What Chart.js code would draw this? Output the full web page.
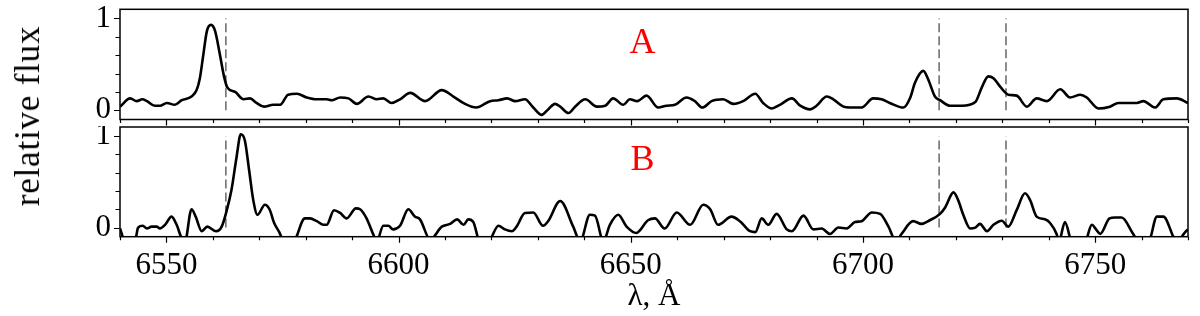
<!DOCTYPE html>
<html>
<head>
<meta charset="utf-8">
<script src="https://cdn.jsdelivr.net/npm/chart.js@4.4.1/dist/chart.umd.min.js"></script>
<style>
  html, body { margin: 0; padding: 0; background: #fff; overflow: hidden; }
  body { width: 1200px; height: 316px; position: relative; }
  .panel { position: absolute; left: 0; width: 1200px; }
  #panelA { top: 0; height: 126px; }
  #panelB { top: 126px; height: 190px; }
  #ylabel {
    position: absolute; left: 28px; top: 116px;
    transform: translate(-50%, -50%) rotate(-90deg);
    font-family: "Liberation Serif", "Times New Roman", serif;
    font-size: 35px; letter-spacing: 0.8px;
    white-space: nowrap; color: #000;
  }
</style>
</head>
<body>
<div class="panel" id="panelA"><canvas id="chartA"></canvas></div>
<div class="panel" id="panelB"><canvas id="chartB"></canvas></div>
<div id="ylabel">relative flux</div>
<script>
// spectrum A - wavelength (Angstrom) and relative flux
const waveA = [6540.0, 6542.2, 6543.6, 6544.8, 6545.8, 6547.5, 6548.6, 6550.1, 6551.8, 6553.3,
  6555.4, 6556.5, 6557.2, 6557.9, 6558.7, 6559.6, 6560.5, 6561.5, 6562.4, 6563.1,
  6564.8, 6566.6, 6568.0, 6569.4, 6571.0, 6573.0, 6574.5, 6576.2, 6578.1, 6580.2,
  6582.4, 6584.5, 6585.6, 6587.4, 6589.2, 6591.0, 6593.5, 6595.3, 6596.7, 6598.5,
  6600.3, 6602.5, 6605.7, 6609.3, 6611.8, 6614.3, 6616.7, 6619.7, 6621.5, 6623.4,
  6625.1, 6627.2, 6629.0, 6630.8, 6632.2, 6633.7, 6634.8, 6636.6, 6638.0, 6640.2,
  6642.7, 6644.5, 6646.2, 6648.4, 6649.8, 6651.4, 6653.4, 6655.9, 6657.7, 6659.5,
  6662.0, 6663.8, 6665.4, 6667.4, 6669.9, 6672.1, 6674.2, 6676.8, 6678.5, 6680.4,
  6682.1, 6684.7, 6686.5, 6688.6, 6690.0, 6692.2, 6693.6, 6695.8, 6697.2, 6699.7,
  6702.2, 6704.0, 6705.8, 6708.7, 6710.2, 6711.2, 6713.0, 6714.1, 6715.5, 6716.6,
  6718.8, 6721.3, 6724.2, 6725.6, 6727.0, 6728.1, 6729.5, 6731.3, 6733.1, 6735.3,
  6737.4, 6739.6, 6742.5, 6744.6, 6746.8, 6748.2, 6750.7, 6753.2, 6755.0, 6759.0,
  6760.4, 6762.9, 6764.7, 6767.6, 6770.0];
const fluxA = [0.04, 0.13, 0.10, 0.12, 0.10, 0.05, 0.05, 0.08, 0.06, 0.11,
  0.15, 0.22, 0.35, 0.59, 0.86, 0.93, 0.86, 0.61, 0.37, 0.25,
  0.20, 0.12, 0.13, 0.08, 0.04, 0.06, 0.06, 0.17, 0.18, 0.14,
  0.12, 0.12, 0.11, 0.14, 0.13, 0.07, 0.15, 0.12, 0.13, 0.08,
  0.12, 0.19, 0.10, 0.22, 0.15, 0.07, 0.03, 0.10, 0.11, 0.13,
  0.10, 0.12, 0.03, -0.05, 0.01, 0.07, 0.04, -0.03, 0.04, 0.12,
  0.04, 0.05, 0.13, 0.06, 0.12, 0.10, 0.16, 0.03, 0.05, 0.06,
  0.14, 0.10, 0.03, 0.10, 0.12, 0.07, 0.10, 0.18, 0.08, 0.02,
  0.06, 0.13, 0.05, 0.01, 0.05, 0.15, 0.12, 0.04, 0.03, 0.03,
  0.13, 0.12, 0.08, 0.03, 0.14, 0.30, 0.43, 0.33, 0.15, 0.11,
  0.05, 0.05, 0.09, 0.25, 0.37, 0.35, 0.26, 0.17, 0.16, 0.04,
  0.13, 0.10, 0.23, 0.14, 0.17, 0.14, 0.02, 0.04, 0.08, 0.08,
  0.10, 0.03, 0.12, 0.13, 0.08];

// spectrum B
const waveB = [6540.0, 6541.1, 6543.2, 6543.9, 6544.9, 6545.8, 6546.8, 6547.9, 6548.6, 6549.7,
  6551.1, 6552.2, 6553.3, 6554.0, 6555.4, 6556.3, 6557.6, 6558.8, 6560.7, 6561.9,
  6563.0, 6564.0, 6565.1, 6566.0, 6566.9, 6567.8, 6568.7, 6569.6, 6571.2, 6572.2,
  6573.2, 6574.3, 6575.3, 6577.3, 6579.8, 6580.9, 6582.4, 6583.8, 6584.5, 6586.1,
  6587.4, 6588.8, 6590.8, 6591.7, 6593.1, 6594.5, 6595.3, 6596.7, 6597.8, 6598.8,
  6600.3, 6602.1, 6603.5, 6604.6, 6606.8, 6609.3, 6611.1, 6612.6, 6614.0, 6615.0,
  6616.1, 6617.5, 6619.3, 6621.5, 6622.9, 6624.4, 6625.4, 6627.2, 6629.0, 6631.1,
  6632.2, 6634.8, 6637.6, 6639.1, 6641.2, 6642.3, 6644.1, 6645.5, 6647.3, 6649.1,
  6651.2, 6653.7, 6655.2, 6657.3, 6659.9, 6662.8, 6665.6, 6667.1, 6668.8, 6671.7,
  6673.5, 6675.7, 6676.8, 6678.2, 6679.6, 6681.4, 6683.6, 6684.7, 6687.2, 6689.3,
  6691.1, 6692.9, 6694.7, 6696.5, 6698.3, 6699.7, 6701.9, 6703.7, 6705.5, 6707.1,
  6708.3, 6710.8, 6712.6, 6714.4, 6716.6, 6717.7, 6719.5, 6720.5, 6721.6, 6723.1,
  6724.2, 6725.2, 6726.7, 6728.1, 6729.9, 6731.3, 6733.1, 6734.9, 6736.0, 6737.4,
  6739.2, 6740.3, 6741.7, 6742.2, 6743.5, 6745.0, 6747.8, 6749.3, 6750.2, 6751.1,
  6753.1, 6754.3, 6755.7, 6758.2, 6759.3, 6761.5, 6763.3, 6764.7, 6767.6, 6769.4,
  6770.0];
const fluxB = [-0.01, -0.15, -0.15, 0.00, 0.02, -0.01, 0.01, 0.01, -0.01, 0.03,
  0.12, 0.03, -0.12, -0.15, 0.20, 0.12, -0.04, 0.01, -0.04, 0.01,
  0.19, 0.41, 0.77, 1.02, 0.95, 0.63, 0.30, 0.14, 0.25, 0.20,
  0.05, -0.05, -0.15, -0.15, 0.10, 0.10, 0.07, 0.03, 0.03, 0.19,
  0.16, 0.10, 0.21, 0.20, 0.10, -0.07, -0.15, 0.02, 0.02, -0.02,
  0.02, 0.20, 0.12, 0.09, -0.13, 0.01, 0.04, 0.09, 0.03, 0.09,
  0.06, -0.15, -0.15, 0.02, -0.02, -0.04, 0.01, 0.16, 0.165, 0.02,
  0.07, 0.29, 0.01, -0.15, 0.14, 0.13, -0.15, 0.03, 0.14, 0.01,
  -0.06, 0.08, 0.10, -0.01, 0.165, 0.03, 0.25, 0.20, 0.03, 0.12,
  0.07, -0.04, -0.05, 0.10, 0.03, 0.15, -0.02, -0.04, 0.13, -0.02,
  -0.01, -0.07, 0.00, -0.01, 0.06, 0.07, 0.165, 0.15, 0.01, -0.15,
  -0.07, 0.07, 0.04, 0.08, 0.15, 0.22, 0.385, 0.30, 0.14, -0.01,
  0.00, 0.04, -0.04, 0.03, 0.075, 0.01, 0.19, 0.375, 0.30, 0.12,
  0.09, 0.05, -0.07, -0.15, 0.06, -0.15, -0.15, 0.03, -0.02, -0.07,
  0.10, 0.11, 0.11, -0.07, -0.15, -0.15, 0.12, 0.12, -0.15, -0.05,
  -0.02];

// rest wavelengths marked with dashed lines (H-alpha, [SII] doublet)
const lineWaves = [6562.8, 6716.4, 6730.8];
const xTickLabels = [6550, 6600, 6650, 6700, 6750];
const yTickLabels = [0, 1];

const X_MIN = 6540, X_MAX = 6770;
const Y_MIN = -0.1, Y_MAX = 1.1;
const SERIF = '"Liberation Serif", "Times New Roman", serif';

Chart.defaults.font.family = SERIF;
Chart.defaults.color = '#000';

// frame, tick marks and the panel letter
const framePlugin = {
  id: 'frame',
  afterDatasetsDraw(chart, args, opts) {
    const { ctx, chartArea: a, scales: { x, y } } = chart;
    ctx.save();
    ctx.strokeStyle = '#000';
    ctx.lineWidth = 1.5;
    ctx.strokeRect(a.left, a.top, a.right - a.left, a.bottom - a.top);
    ctx.lineWidth = 1.2;
    ctx.beginPath();
    for (let v = X_MIN; v <= X_MAX; v += 10) {
      const px = Math.round(x.getPixelForValue(v)) + 0.5;
      const len = v % 50 === 0 ? 6 : 3.5;
      ctx.moveTo(px, a.bottom);
      ctx.lineTo(px, a.bottom + len);
    }
    for (let i = 0; i <= 5; i++) {
      const py = Math.round(y.getPixelForValue(i * 0.2)) + 0.5;
      const len = (i === 0 || i === 5) ? 6 : 4.5;
      ctx.moveTo(a.left, py);
      ctx.lineTo(a.left - len, py);
    }
    ctx.stroke();
    ctx.fillStyle = '#ff0000';
    ctx.font = '36px ' + SERIF;
    ctx.textAlign = 'center';
    ctx.textBaseline = 'middle';
    ctx.fillText(opts.letter, x.getPixelForValue(6652.5), y.getPixelForValue(0.73));
    ctx.restore();
  }
};

function toPoints(wave, flux) {
  return wave.map((w, i) => ({ x: w, y: flux[i] }));
}

// no extra room for half labels at the ends of an axis
function noEdgePadding(s) {
  s.paddingTop = 0;
  s.paddingBottom = 0;
  s.paddingLeft = 0;
  s.paddingRight = 0;
}

function makePanel(canvasId, wave, flux, letter, showXAxis) {
  const datasets = [{
    data: toPoints(wave, flux),
    borderColor: '#000',
    borderWidth: 2.6,
    pointRadius: 0,
    cubicInterpolationMode: 'monotone',
    order: 0
  }];
  // dashed marker lines from 0 to 1
  lineWaves.forEach(w => {
    datasets.push({
      data: [{ x: w, y: 0 }, { x: w, y: 1 }],
      borderColor: '#666',
      borderWidth: 1.5,
      borderDash: [9, 4],
      pointRadius: 0,
      order: 1
    });
  });

  return new Chart(document.getElementById(canvasId), {
    type: 'line',
    data: { datasets },
    plugins: [framePlugin],
    options: {
      responsive: true,
      maintainAspectRatio: false,
      animation: false,
      events: [],
      layout: {
        autoPadding: false,
        padding: showXAxis ? { top: 1, right: 12, bottom: 0, left: 0 }
                           : { top: 9.3, right: 12, bottom: 6.5, left: 0 }
      },
      plugins: {
        legend: { display: false },
        tooltip: { enabled: false },
        frame: { letter }
      },
      scales: {
        x: {
          type: 'linear',
          min: X_MIN,
          max: X_MAX,
          display: showXAxis,
          border: { display: false },
          grid: { display: false, drawTicks: false },
          afterBuildTicks: s => { s.ticks = xTickLabels.map(v => ({ value: v })); },
          afterFit: s => { s.height = showXAxis ? 79.3 : 0; noEdgePadding(s); },
          ticks: {
            font: { size: 31 },
            padding: 11,
            maxRotation: 0,
            autoSkip: false,
            callback: v => String(v)
          },
          title: {
            display: true,
            text: 'λ, Å',
            font: { size: 31 },
            padding: { top: 0, bottom: 1 }
          }
        },
        y: {
          min: Y_MIN,
          max: Y_MAX,
          border: { display: false },
          grid: { display: false, drawTicks: false },
          afterBuildTicks: s => { s.ticks = yTickLabels.map(v => ({ value: v })); },
          afterFit: s => { s.width = 120; noEdgePadding(s); },
          ticks: { font: { size: 31 }, padding: 9, callback: v => String(v) }
        }
      }
    }
  });
}

makePanel('chartA', waveA, fluxA, 'A', false);
makePanel('chartB', waveB, fluxB, 'B', true);
</script>
</body>
</html>
